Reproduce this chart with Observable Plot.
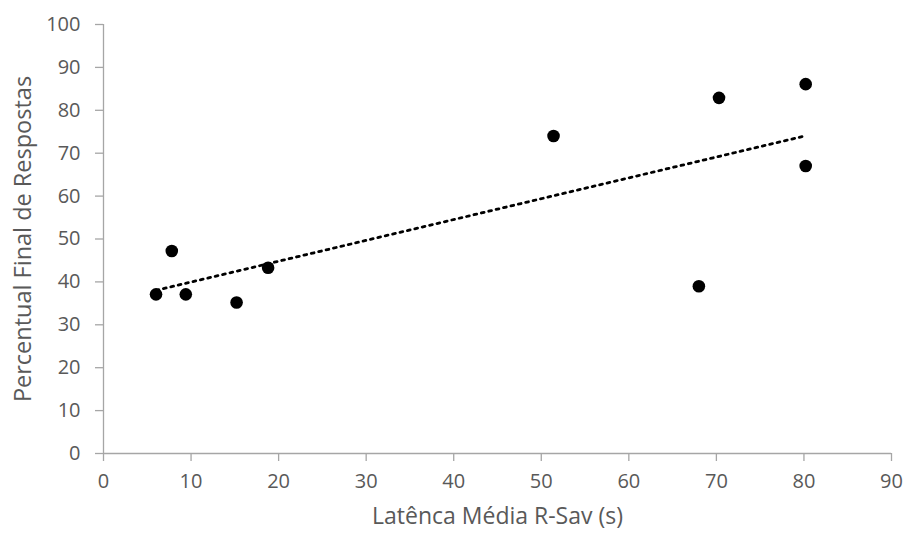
<!DOCTYPE html>
<html>
<head>
<meta charset="utf-8">
<script src="https://cdn.jsdelivr.net/npm/d3@7"></script>
<script src="https://cdn.jsdelivr.net/npm/@observablehq/plot@0.6"></script>
<style>
  html, body { margin: 0; padding: 0; background: #fff; }
  #chart svg { display: block; }
</style>
</head>
<body>
<div id="chart"></div>
<script>
const latencia = [6.0, 7.8, 9.4, 15.2, 18.8, 51.4, 68.0, 70.3, 80.2, 80.2];
const percentual = [37.1, 47.2, 37.1, 35.2, 43.3, 74.0, 39.0, 82.9, 86.1, 67.0];
const xTicks = [0, 10, 20, 30, 40, 50, 60, 70, 80, 90];
const yTicks = [0, 10, 20, 30, 40, 50, 60, 70, 80, 90, 100];
const xLabel = "Latênca Média R-Sav (s)";
const yLabel = "Percentual Final de Respostas";

const data = latencia.map((x, i) => ({x, y: percentual[i]}));
const axisColor = "#a6a6a6";
const textColor = "#595959";
const font = "'Open Sans', sans-serif";

const chart = Plot.plot({
  width: 906,
  height: 539,
  marginLeft: 103,
  marginRight: 15,
  marginTop: 24,
  marginBottom: 86,
  style: {fontFamily: font, fontSize: "20px", color: textColor, background: "#fff"},
  x: {domain: [0, 90]},
  y: {domain: [0, 100]},
  marks: [
    Plot.ruleY([0], {stroke: axisColor, strokeWidth: 1.3}),
    Plot.ruleX([0], {stroke: axisColor, strokeWidth: 1.3}),
    Plot.axisX({ticks: xTicks, tickSize: 8, tickPadding: 12, stroke: axisColor, strokeWidth: 1.3, fill: textColor, fontSize: 20,
      label: null}),
    Plot.axisY({ticks: yTicks, tickSize: 8, tickPadding: 15, stroke: axisColor, strokeWidth: 1.3, fill: textColor, fontSize: 20,
      label: null}),
    Plot.text([xLabel], {frameAnchor: "bottom", dy: 70, fill: textColor, fontSize: 23, fontFamily: font}),
    Plot.text([yLabel], {frameAnchor: "left", textAnchor: "middle", dx: -80, rotate: -90, fill: textColor, fontSize: 23.5, fontFamily: font}),
    Plot.linearRegressionY(data, {x: "x", y: "y", ci: 0, stroke: "#000", strokeWidth: 2.8, strokeDasharray: "2.8,4.8"}),
    Plot.dot(data, {x: "x", y: "y", r: 6.3, fill: "#000", stroke: "none"})
  ]
});
document.getElementById("chart").append(chart);
</script>
</body>
</html>
